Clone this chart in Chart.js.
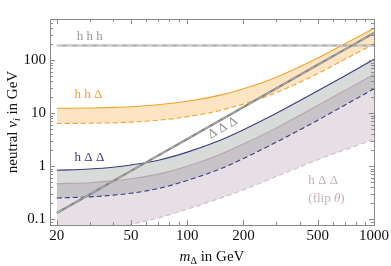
<!DOCTYPE html>
<html>
<head>
<meta charset="utf-8">
<script src="https://cdn.jsdelivr.net/npm/chart.js@4/dist/chart.umd.min.js"></script>
<style>
  html, body { margin: 0; padding: 0; background: #fff; }
  #c { display: block; }
</style>
</head>
<body>
<canvas id="c" width="391" height="266"></canvas>
<script>
const masses = [20, 30, 40, 50, 70, 100, 150, 200, 300, 500, 700, 1000];

// h h h (flat)
const hhhMass = [20, 1000];
const hhhV = [189, 189];

// Δ Δ Δ (straight line in log-log)
const dddMass = [20, 50, 100, 200, 500, 1000];
const dddV = [0.131, 0.82, 3.28, 13.1, 82, 327];

// h h Δ band
const hhdUpper = [12.4, 12.6, 12.9, 13.3, 14.5, 16.8, 22, 29, 48, 110, 205, 401];
const hhdLower = [6.4, 6.5, 6.6, 6.8, 7.4, 8.6, 11.3, 14.9, 24.6, 56, 105, 203];

// h Δ Δ band and the flip θ band
const hddUpper = [0.84, 0.89, 0.96, 1.06, 1.3, 1.85, 3.1, 4.9, 10.0, 26.5, 51, 104];
const hddMid = [0.47, 0.49, 0.53, 0.58, 0.71, 1.0, 1.67, 2.63, 5.3, 14, 27, 54.5];
const hddLower = [0.252, 0.265, 0.285, 0.31, 0.38, 0.54, 0.89, 1.4, 2.85, 7.4, 14.3, 29];
const flipLower = [0.04, 0.053, 0.066, 0.08, 0.106, 0.155, 0.25, 0.36, 0.64, 1.33, 2.05, 3.2];

// axes
const xTicks = [20, 50, 100, 200, 500, 1000];
const xMinor = [30, 40, 60, 70, 80, 90, 300, 400, 600, 700, 800, 900];
const yTicks = [0.1, 1, 10, 100];
const yMinor = [0.09, 0.2, 0.3, 0.4, 0.5, 0.6, 0.7, 0.8, 0.9, 2, 3, 4, 5, 6, 7, 8, 9,
                20, 30, 40, 50, 60, 70, 80, 90, 200, 300, 400, 500];

const SERIF = "'Liberation Serif', 'DejaVu Serif', serif";

function pts(xs, ys) {
  return xs.map((x, i) => ({ x: x, y: ys[i] }));
}

function linha(label, xs, ys, cor, largura, dash, fill, fundo) {
  return {
    label: label,
    data: pts(xs, ys),
    borderColor: cor,
    borderWidth: largura,
    borderDash: dash || [],
    pointRadius: 0,
    cubicInterpolationMode: "monotone",
    fill: fill === undefined ? false : fill,
    backgroundColor: fundo || "transparent",
  };
}

// frame, inner ticks, labels and axis titles
const molduraPlugin = {
  id: "moldura",
  afterDatasetsDraw(chart) {
    const { ctx, chartArea: a, scales: { x, y } } = chart;
    ctx.save();
    ctx.strokeStyle = "#8a8a8a";
    ctx.lineWidth = 1;
    ctx.strokeRect(a.left + 0.5, a.top + 0.5, a.right - a.left, a.bottom - a.top);
    const tx = (v, len) => {
      const px = Math.round(x.getPixelForValue(v)) + 0.5;
      ctx.beginPath();
      ctx.moveTo(px, a.bottom); ctx.lineTo(px, a.bottom - len);
      ctx.moveTo(px, a.top); ctx.lineTo(px, a.top + len);
      ctx.stroke();
    };
    const ty = (v, len) => {
      const py = Math.round(y.getPixelForValue(v)) + 0.5;
      if (py < a.top || py > a.bottom) return;
      ctx.beginPath();
      ctx.moveTo(a.left, py); ctx.lineTo(a.left + len, py);
      ctx.moveTo(a.right, py); ctx.lineTo(a.right - len, py);
      ctx.stroke();
    };
    xTicks.forEach(v => tx(v, 5));
    xMinor.forEach(v => tx(v, 3));
    yTicks.forEach(v => ty(v, 5));
    yMinor.forEach(v => ty(v, 3));
    ctx.restore();
  },
  afterDraw(chart) {
    const { ctx, chartArea: a, scales: { x, y } } = chart;
    ctx.save();
    ctx.textBaseline = "middle";
    ctx.textAlign = "left";

    const rotulo = (txt, m, v, cor) => {
      ctx.fillStyle = cor;
      ctx.font = "13px " + SERIF;
      ctx.fillText(txt, x.getPixelForValue(m), y.getPixelForValue(v));
    };
    rotulo("h h h", 25.6, 275, "#9a9a9a");
    rotulo("h h \u0394", 24.9, 22.1, "#f0a02a");
    rotulo("h \u0394 \u0394", 24.9, 1.48, "#3b3b85");
    rotulo("h \u0394 \u0394", 445, 0.545, "#c4b0ba");
    ctx.fillStyle = "#c4b0ba";
    ctx.font = "13px " + SERIF;
    ctx.fillText("(flip ", x.getPixelForValue(445), y.getPixelForValue(0.249));
    const w = ctx.measureText("(flip ").width;
    ctx.font = "italic 13px " + SERIF;
    ctx.fillText("\u03B8", x.getPixelForValue(445) + w, y.getPixelForValue(0.249));
    const w2 = ctx.measureText("\u03B8").width;
    ctx.font = "13px " + SERIF;
    ctx.fillText(")", x.getPixelForValue(445) + w + w2, y.getPixelForValue(0.249));

    // Δ Δ Δ along the line, just below it
    const p1x = x.getPixelForValue(dddMass[0]), p1y = y.getPixelForValue(dddV[0]);
    const p2x = x.getPixelForValue(dddMass[5]), p2y = y.getPixelForValue(dddV[5]);
    const ang = Math.atan2(p2y - p1y, p2x - p1x);
    ctx.save();
    ctx.translate(x.getPixelForValue(155), y.getPixelForValue(5.3));
    ctx.rotate(ang);
    ctx.textAlign = "center";
    ctx.fillStyle = "#8a8a8a";
    ctx.font = "13px " + SERIF;
    ctx.fillText("\u0394 \u0394 \u0394", 0, 0);
    ctx.restore();

    // axis titles with italic parts and subscripts
    const partes = (lista) => {
      let total = 0;
      lista.forEach(p => { ctx.font = p.f; total += ctx.measureText(p.t).width; });
      let pos = -total / 2;
      lista.forEach(p => {
        ctx.font = p.f;
        ctx.fillText(p.t, pos, p.dy || 0);
        pos += ctx.measureText(p.t).width;
      });
    };
    ctx.fillStyle = "#111";
    ctx.textBaseline = "alphabetic";
    ctx.textAlign = "left";
    ctx.save();
    ctx.translate((a.left + a.right) / 2, 261);
    partes([
      { t: "m", f: "italic 15px " + SERIF },
      { t: "\u0394", f: "10px " + SERIF, dy: 3 },
      { t: " in GeV", f: "15px " + SERIF },
    ]);
    ctx.restore();
    ctx.save();
    ctx.translate(17, (a.top + a.bottom) / 2);
    ctx.rotate(-Math.PI / 2);
    partes([
      { t: "neutral ", f: "15px " + SERIF },
      { t: "v", f: "italic 15px " + SERIF },
      { t: "i", f: "italic 10px " + SERIF, dy: 3 },
      { t: " in GeV", f: "15px " + SERIF },
    ]);
    ctx.restore();
    ctx.restore();
  },
};

const datasets = [
  linha("ΔΔΔ dash", dddMass, dddV, "#b4b4b4", 1, [6, 4]),
  linha("ΔΔΔ", dddMass, dddV, "#878787", 2.2),
  linha("hhh dash", hhhMass, hhhV, "#d2d2d2", 1, [6, 4]),
  linha("hhh", hhhMass, hhhV, "#a6a6a6", 2),
  linha("hhΔ upper", masses, hhdUpper, "#f2a32c", 1.1, null, 5, "#fde4c2"),
  linha("hhΔ lower", masses, hhdLower, "#f2a32c", 1.1, [5, 3]),
  linha("hΔΔ upper", masses, hddUpper, "#3b3b85", 1.1, null, 7, "#d8dbd8"),
  linha("hΔΔ mid", masses, hddMid, "#b8a2ac", 1.1, null, 8, "#c6c4c8"),
  linha("hΔΔ lower", masses, hddLower, "#3b3b85", 1.1, [5, 3], 9, "#e6e0e6"),
  linha("flip lower", masses, flipLower, "#d2bcc6", 1.1, [5, 3]),
];

new Chart(document.getElementById("c"), {
  type: "line",
  data: { datasets: datasets },
  options: {
    responsive: false,
    animation: false,
    devicePixelRatio: 1,
    layout: { padding: { left: 0, right: 16, top: 19, bottom: 0 } },
    plugins: {
      legend: { display: false },
      tooltip: { enabled: false },
      filler: { drawTime: "beforeDatasetsDraw" },
    },
    scales: {
      x: {
        type: "logarithmic",
        min: 18.4,
        max: 1000,
        grid: { display: false, drawTicks: false },
        border: { display: false },
        afterBuildTicks: (s) => { s.ticks = xTicks.map(v => ({ value: v })); },
        afterFit: (s) => { s.height = 41; },
        ticks: {
          autoSkip: false,
          maxRotation: 0,
          padding: 2,
          color: "#111",
          font: { family: SERIF, size: 15 },
          callback: (v) => String(v),
        },
      },
      y: {
        type: "logarithmic",
        min: 0.078,
        max: 600,
        grid: { display: false, drawTicks: false },
        border: { display: false },
        afterBuildTicks: (s) => { s.ticks = yTicks.map(v => ({ value: v })); },
        afterFit: (s) => { s.width = 50; },
        ticks: {
          autoSkip: false,
          padding: 4,
          color: "#111",
          font: { family: SERIF, size: 15 },
          callback: (v) => String(v),
        },
      },
    },
  },
  plugins: [molduraPlugin],
});
</script>
</body>
</html>
